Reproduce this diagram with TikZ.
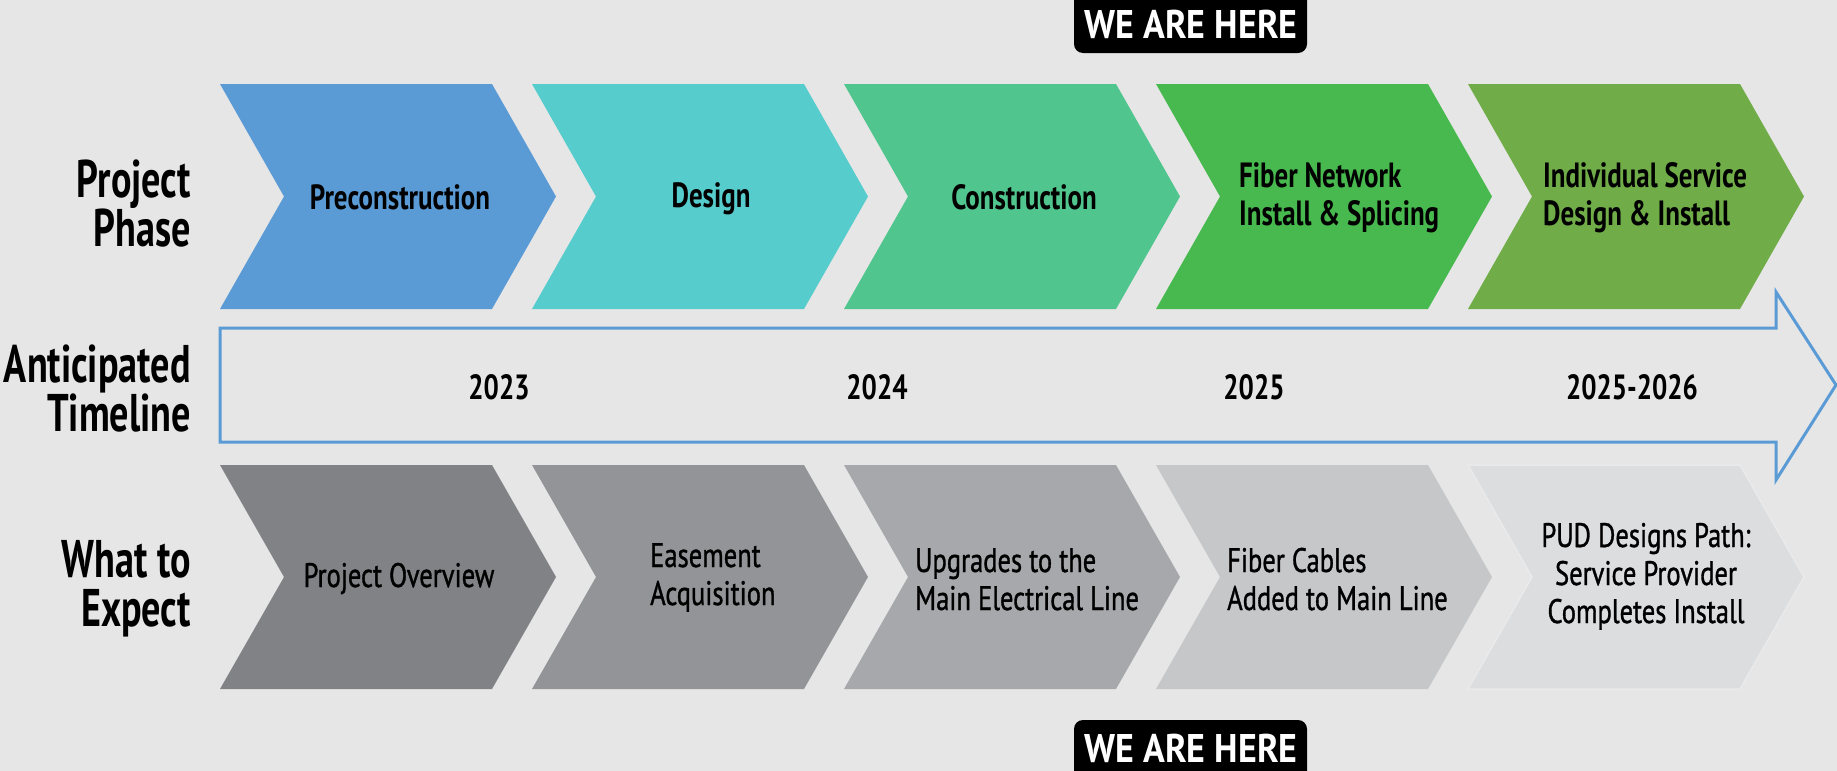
\documentclass[tikz,border=0pt]{standalone}
\usepackage{fontspec}
\newfontfamily\lblfont{PT Sans}[FakeStretch=0.72]
\newfontfamily\chevfont{PT Sans}[FakeStretch=0.77]
\newfontfamily\herefont{PT Sans}[FakeStretch=0.9]
\newfontfamily\expfont{PT Sans}[FakeStretch=0.78,FakeBold=1]
\newcommand\mlL[1]{\vtop{\halign{##\hfil\cr#1\crcr}}}
\newcommand\mlC[1]{\vtop{\halign{\hfil##\hfil\cr#1\crcr}}}
\newcommand\mlR[1]{\vtop{\halign{\hfil##\cr#1\crcr}}}
\definecolor{bgc}{HTML}{E6E6E6}
\definecolor{pA}{HTML}{5B9BD5}
\definecolor{pB}{HTML}{56CCCD}
\definecolor{pC}{HTML}{50C58E}
\definecolor{pD}{HTML}{48B94E}
\definecolor{pE}{HTML}{70AC47}
\definecolor{gA}{HTML}{818285}
\definecolor{gB}{HTML}{939497}
\definecolor{gC}{HTML}{A7A8AB}
\definecolor{gD}{HTML}{C6C7C9}
\definecolor{gE}{HTML}{DCDDDF}
\definecolor{rimc}{HTML}{EAEAEB}
\definecolor{arrowc}{HTML}{5B9BD5}
\tikzset{
  rowlbl/.style={inner sep=0pt, font=\lblfont\bfseries\fontsize{53}{49}\selectfont, anchor=base east},
  phaselbl/.style={inner sep=0pt, font=\chevfont\bfseries\fontsize{35}{38}\selectfont},
  yearlbl/.style={inner sep=0pt, font=\chevfont\bfseries\fontsize{35}{38}\selectfont, anchor=base},
  explbl/.style={inner sep=0pt, font=\expfont\fontsize{34}{38}\selectfont},
  herebox/.style={fill=black, rounded corners=9pt},
  herelbl/.style={inner sep=0pt, text=white, font=\herefont\bfseries\fontsize{40}{42}\selectfont, anchor=base},
  timearrow/.style={draw=arrowc, line width=3pt, fill=bgc, line join=miter}
}
\newcommand\chev[5][]{% [extra], x0, top, bottom, colour
  \path[fill=#5,#1] (#2,#3) -- ++(272,0) -- ({#2+336},{(#3+#4)/2}) -- ({#2+272},#4) -- (#2,#4) -- ({#2+64},{(#3+#4)/2}) -- cycle;}
\begin{document}
\begin{tikzpicture}[x=1pt,y=-1pt]
\useasboundingbox (0,0) rectangle (1837,771);
\fill[bgc] (0,0) rectangle (1837,771);

% row labels
\node[rowlbl] (lphase) at (191,197) {\mlR{Project\cr Phase}};
\node[rowlbl] (ltime) at (191,382) {\mlR{Anticipated\cr Timeline}};
\node[rowlbl] (lexp) at (191,577) {\mlR{What to\cr Expect}};

% project phase chevrons
\chev{220}{84}{309}{pA}
\chev{532}{84}{309}{pB}
\chev{844}{84}{309}{pC}
\chev{1156}{84}{309}{pD}
\chev{1468}{84}{309}{pE}

\node[phaselbl, anchor=base] (p1) at (400,209) {Preconstruction};
\node[phaselbl, anchor=base] (p2) at (711,207) {Design};
\node[phaselbl, anchor=base] (p3) at (1024,209) {Construction};
\node[phaselbl, anchor=base west] (p4) at (1239,187) {\mlL{Fiber Network\cr Install \& Splicing}};
\node[phaselbl, anchor=base west] (p5) at (1543,187) {\mlL{Individual Service\cr Design \& Install}};

% timeline arrow
\draw[timearrow] (220,328) -- (1776,328) -- (1776,292) -- (1836,385) -- (1776,480) -- (1776,442) -- (220,442) -- cycle;
\node[yearlbl] (y1) at (499,399) {2023};
\node[yearlbl] (y2) at (877,399) {2024};
\node[yearlbl] (y3) at (1254,399) {2025};
\node[yearlbl] (y4) at (1632,399) {2025-2026};

% what to expect chevrons
\chev{220}{465}{689}{gA}
\chev{532}{465}{689}{gB}
\chev{844}{465}{689}{gC}
\chev{1156}{465}{689}{gD}
\chev[draw=rimc, line width=1.5pt, line join=miter]{1468}{465}{689}{gE}

\node[explbl, anchor=base] (e1) at (399,587) {Project Overview};
\node[explbl, anchor=base west] (e2) at (650,567) {\mlL{Easement\cr Acquisition}};
\node[explbl, anchor=base west] (e3) at (915,572) {\mlL{Upgrades to the\cr Main Electrical Line}};
\node[explbl, anchor=base west] (e4) at (1227,572) {\mlL{Fiber Cables\cr Added to Main Line}};
\node[explbl, anchor=base] (e5) at (1646,547) {\mlC{PUD Designs Path:\cr Service Provider\cr Completes Install}};

% we are here markers
\fill[herebox] (1074,-10) rectangle (1307,53);
\node[herelbl] (h1) at (1191,38) {WE ARE HERE};
\fill[herebox] (1074,720) rectangle (1307,781);
\node[herelbl] (h2) at (1191,762) {WE ARE HERE};
\end{tikzpicture}
\end{document}
